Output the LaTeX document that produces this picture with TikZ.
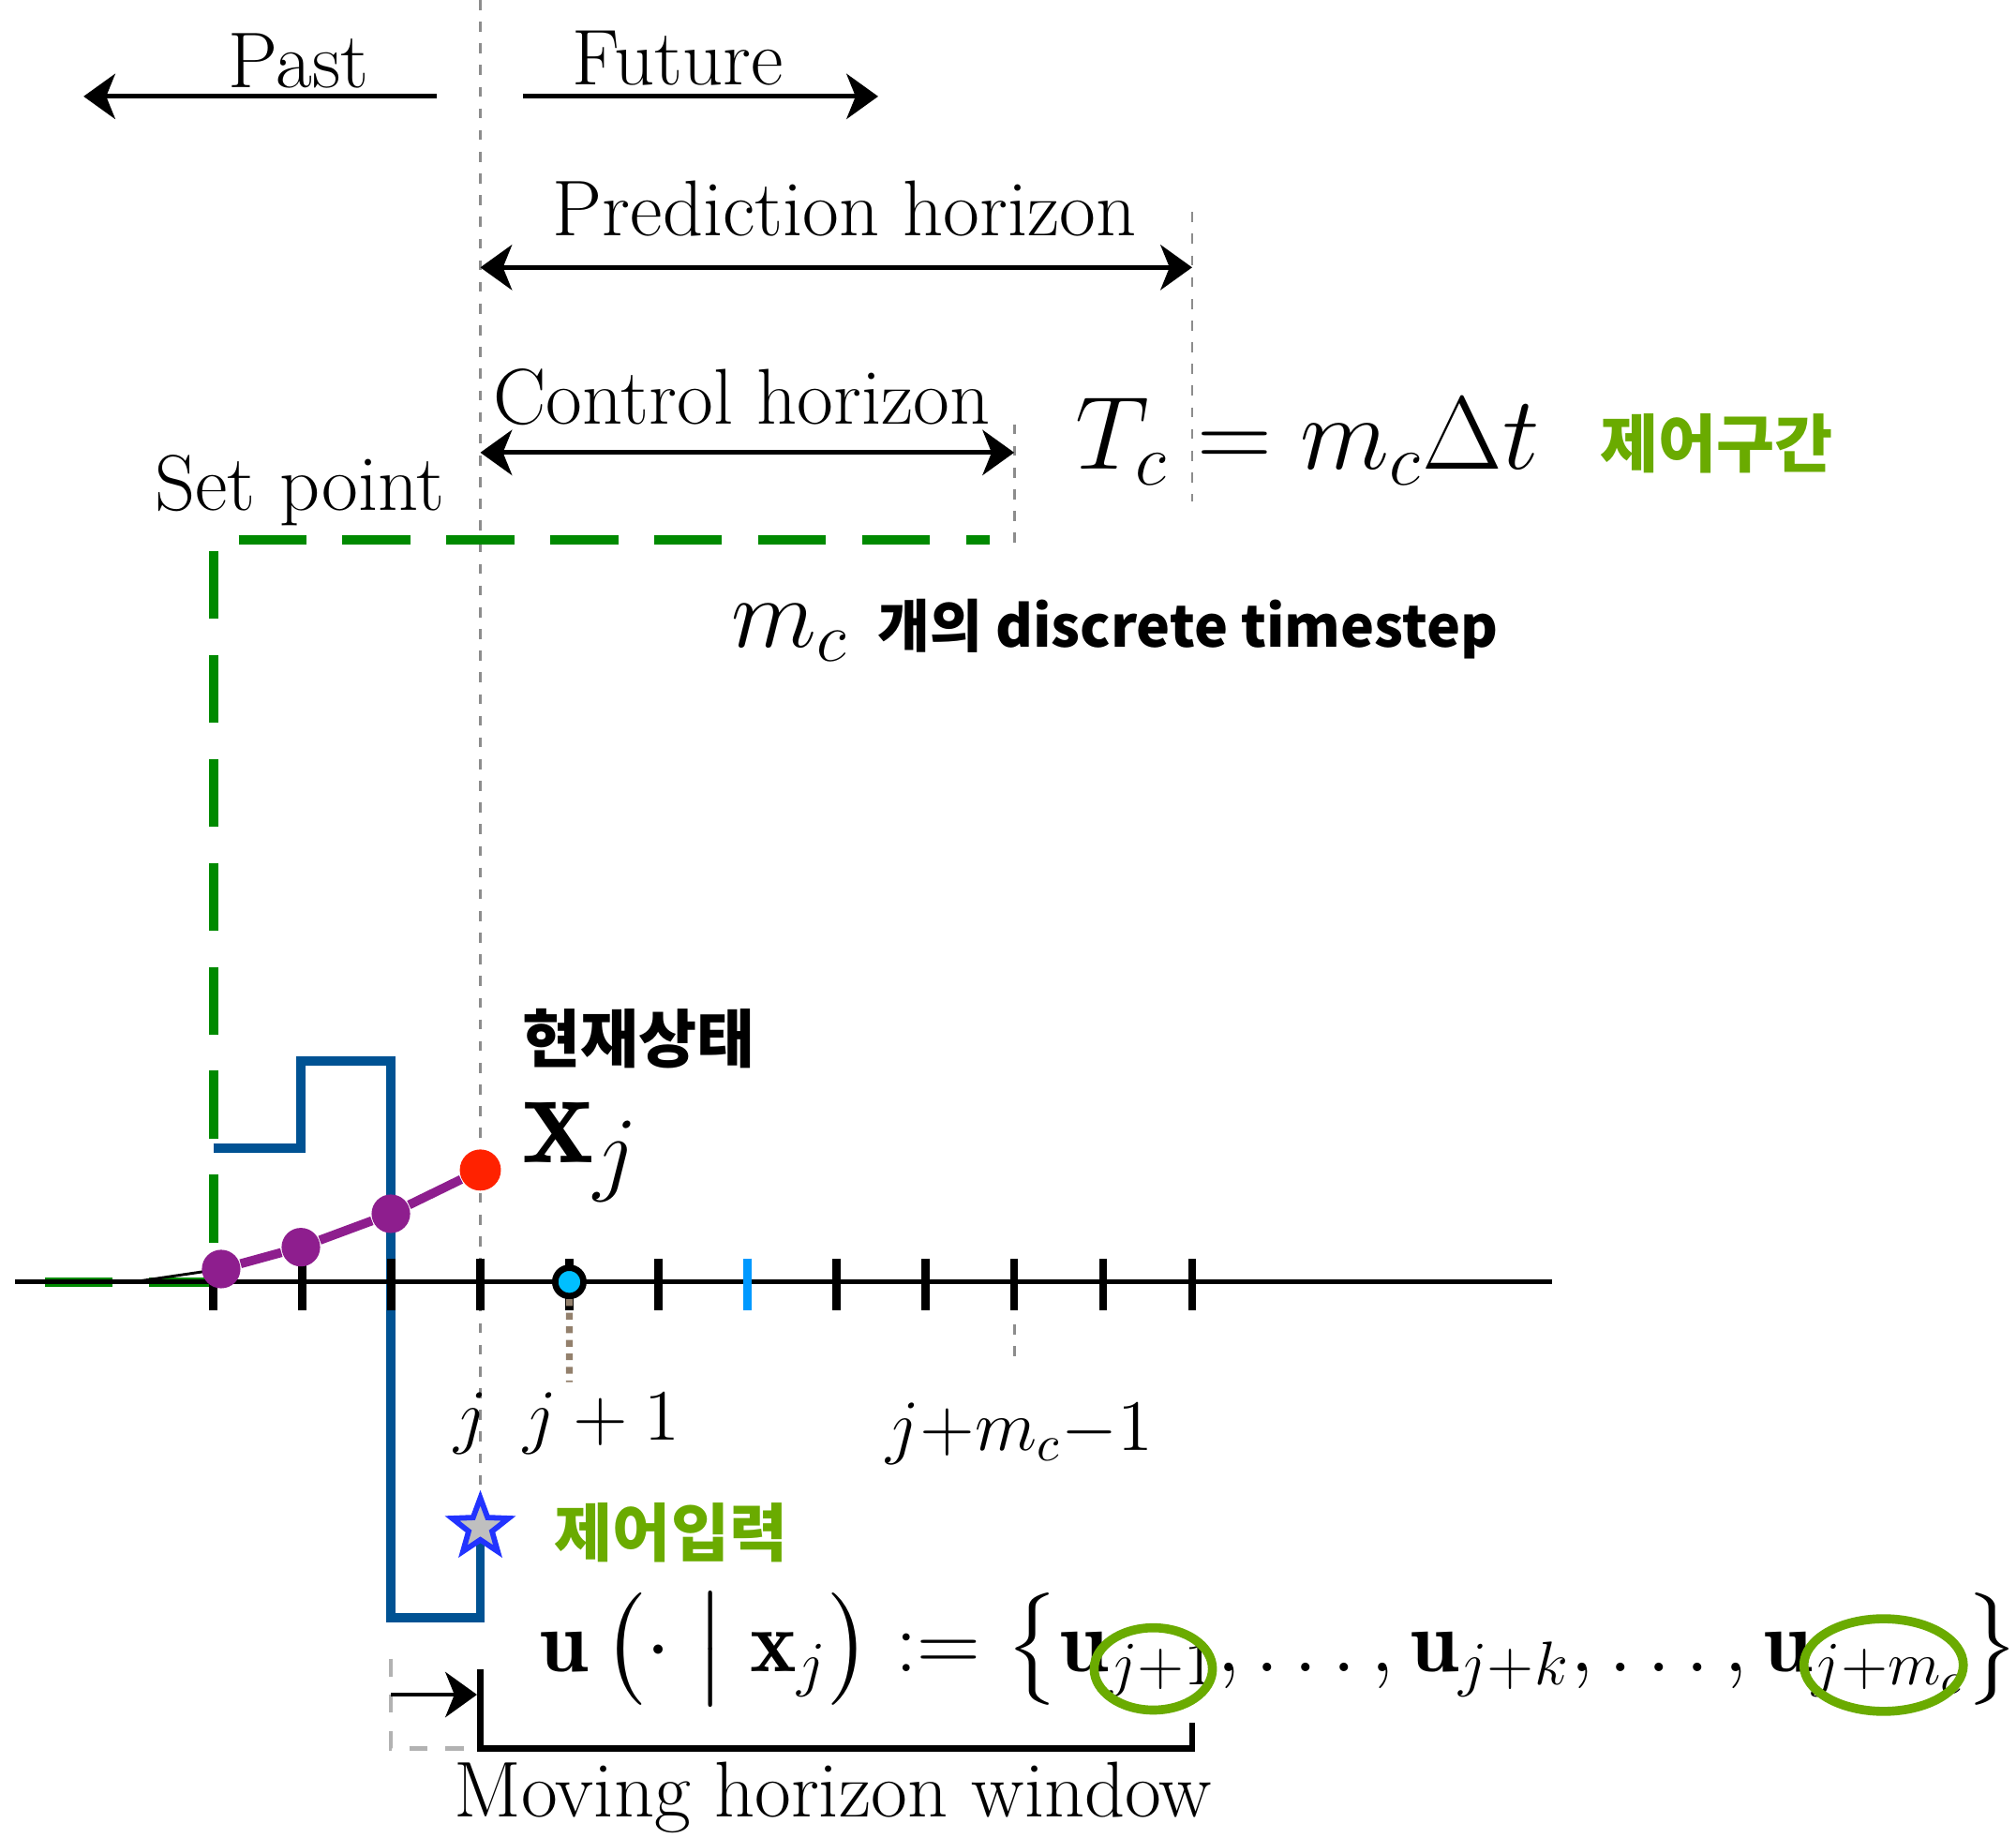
\RequirePackage{fix-cm}
\documentclass[tikz,border=0pt]{standalone}
\usepackage{fontspec}
\usepackage{amsmath}
\usepackage{tikz}
\usetikzlibrary{arrows.meta, shapes.geometric, calc}
\newfontfamily\kfont{Noto Sans CJK KR}
\definecolor{SetGreen}{HTML}{008A00}
\definecolor{KorGreen}{HTML}{6AAB00}
\definecolor{InputBlue}{HTML}{005293}
\definecolor{StatePurple}{HTML}{8E1E8E}
\definecolor{StateRed}{HTML}{FF2200}
\definecolor{TickBlue}{HTML}{0099FF}
\definecolor{NextCyan}{HTML}{00BFFF}
\definecolor{StarBlue}{HTML}{2233FF}
\definecolor{GuideGray}{HTML}{8C8C8C}

\begin{document}
\begin{tikzpicture}[x = 1cm, y=1cm,
	lbl/.style = {font=\fontsize{17.5}{21}\selectfont, inner sep=0pt},
	ticklbl/.style = {font=\fontsize{16}{19}\selectfont, inner sep=0pt},
	klbl/.style = {font=\kfont\bfseries\fontsize{14}{17}\selectfont, inner sep=0pt},
	guide/.style = {GuideGray, line width=0.6pt, dash pattern=on 2.2pt off 2.6pt},
	span/.style = {line width=1pt, {Stealth[length=7pt, width=10pt, inset=2pt]}-{Stealth[length=7pt, width=10pt, inset=2pt]}},
	onearrow/.style = {line width=1pt, -{Stealth[length=7pt, width=10pt, inset=2pt]}},
	statedot/.style = {circle, fill=StatePurple, minimum size=0.3cm, inner sep=0pt}]
						\path [use as bounding box, draw = none] (0, 0) rectangle (15.68, 14.29);
						\foreach \i in {0,...,11}
							\coordinate (t\i) at (1.66+0.692*\i, 4.32);
						\coordinate (top) at (3.736, 14.29);
						\coordinate (ph) at (9.272, 12.21);
						\coordinate (ch) at (7.888, 10.77);
						\draw [guide] (top) -- (3.736, 2.6);
						\draw [guide] (9.272, 12.64) -- (9.272, 10.39);
						\draw [guide] (7.888, 10.99) -- (7.888, 10.01);
						\draw [guide] ($(t9)+(0,-0.33)$) -- ($(t9)+(0,-0.63)$);
						\coordinate (pastA) at (3.40, 13.54);
						\coordinate (pastB) at (0.65, 13.54);
						\coordinate (futA) at (4.07, 13.54);
						\coordinate (futB) at (6.83, 13.54);
						\draw [onearrow] (pastA) -- (pastB);
						\draw [onearrow] (futA) -- (futB);
						\node [lbl, anchor=base] (past) at (2.32, 13.61) {Past};
						\node [lbl, anchor=base] (future) at (5.27, 13.63) {Future};
						\draw [span] (3.736, 12.21) -- (ph);
						\node [lbl, anchor=base] (predict) at (6.57, 12.46) {Prediction horizon};
						\draw [span] (3.736, 10.77) -- (ch);
						\node [lbl, anchor=base] (control) at (5.77, 10.99) {Control horizon};
						\node [lbl, anchor=base] (setpt) at (2.33, 10.32) {Set point};
						\node [inner sep=0pt, anchor=base, font=\fontsize{23}{27}\selectfont] (tc) at (10.17, 10.64) {$T_c = m_c\Delta t$};
						\node [klbl, text=KorGreen] (tckor) at (13.35, 10.84) {제어구간};
						\node [inner sep=0pt, anchor=base west, font=\fontsize{22}{26}\selectfont] (steps) at (5.68, 9.26) {$m_c$ {\kfont\bfseries\fontsize{12.6}{15}\selectfont 개의 discrete timestep}};
						\draw [SetGreen, line width=2pt, dash pattern=on 15pt off 8pt] (0.35, 4.32) -- (t0) -- (1.66, 10.09) -- (7.70, 10.09);
						\draw [InputBlue, line width=2pt] (1.66, 5.36) -- (2.34, 5.36) -- (2.34, 6.04) -- (3.04, 6.04) -- (3.04, 1.71) -- (3.736, 1.71) -- (3.736, 2.30);
						\draw [line width=1.1pt] (0.12, 4.32) -- (12.07, 4.32);
						\foreach \i in {0,...,11}
							\draw [line width=1.8pt] ($(t\i)+(0,0.18)$) -- ($(t\i)+(0,-0.22)$);
						\draw [TickBlue, line width=1.8pt] ($(t6)+(0,0.18)$) -- ($(t6)+(0,-0.22)$);
						\draw [line width=0.6pt] (1.04, 4.32) -- (1.72, 4.42);
						\node [statedot] (s0) at (1.72, 4.42) {};
						\node [statedot] (s1) at (2.34, 4.59) {};
						\node [statedot] (s2) at (3.04, 4.85) {};
						\node [statedot, fill=StateRed, minimum size=0.32cm] (s3) at (3.736, 5.19) {};
						\draw [StatePurple, line width=2pt] (s0) -- (s1) -- (s2) -- (s3);
						\node [klbl] (now) at (4.97, 6.21) {현재상태};
						\node [inner sep=0pt, font=\fontsize{30}{34}\selectfont] (xj) at (4.52, 5.33) {$\mathbf{x}_j$};
						\node [circle, fill=NextCyan, draw=black, line width=1.4pt, minimum size=0.22cm, inner sep=0pt] (next) at (t4) {};
						\coordinate (nextfoot) at (4.428, 3.54);
						\draw [gray!70!brown, line width=1.5pt, dash pattern=on 1.5pt off 1.5pt] (next) -- (nextfoot);
						\node [ticklbl, anchor=base] (lj) at (3.66, 3.09) {$j$};
						\node [ticklbl, anchor=base] (lj1) at (4.68, 3.09) {$j+1$};
						\node [ticklbl, anchor=base] (ljm) at (7.93, 3.01) {$j{+}m_c{-}1$};
						\node [star, star points=5, star point ratio=2.4, minimum size=0.46cm, inner sep=0pt, draw=StarBlue, fill=lightgray, line width=1.2pt] (ustar) at (3.736, 2.41) {};
						\node [klbl, text=KorGreen] (ukor) at (5.22, 2.37) {제어입력};
						\node [inner sep=0pt, anchor=base, font=\fontsize{19.5}{23}\selectfont] (useq) at (9.95, 1.29) {$\mathbf{u}\,\bigl(\cdot\;\big|\;\mathbf{x}_j\bigr) := \bigl\{\mathbf{u}_{j+1}, \ldots, \mathbf{u}_{j+k}, \ldots, \mathbf{u}_{j+m_c}\bigr\}$};
						\node [ellipse, draw=KorGreen, line width=2pt, minimum width=0.92cm, minimum height=0.64cm] (first) at (8.97, 1.31) {};
						\node [ellipse, draw=KorGreen, line width=2pt, minimum width=1.24cm, minimum height=0.72cm] (last) at (14.65, 1.34) {};
						\coordinate (winA) at (3.736, 1.31);
						\coordinate (winB) at (9.272, 0.89);
						\draw [line width=1.4pt] (winA) |- (9.272, 0.69) -- (winB);
						\draw [gray!60, line width=1pt, dash pattern=on 4pt off 4pt] (3.04, 1.39) |- (winA |- 0, 0.69);
						\coordinate (shiftA) at (3.04, 1.11);
						\coordinate (shiftB) at (3.71, 1.11);
						\draw [onearrow] (shiftA) -- (shiftB);
						\node [lbl, anchor=base] (window) at (6.48, 0.16) {Moving horizon window};
					\end{tikzpicture}
\end{document}
